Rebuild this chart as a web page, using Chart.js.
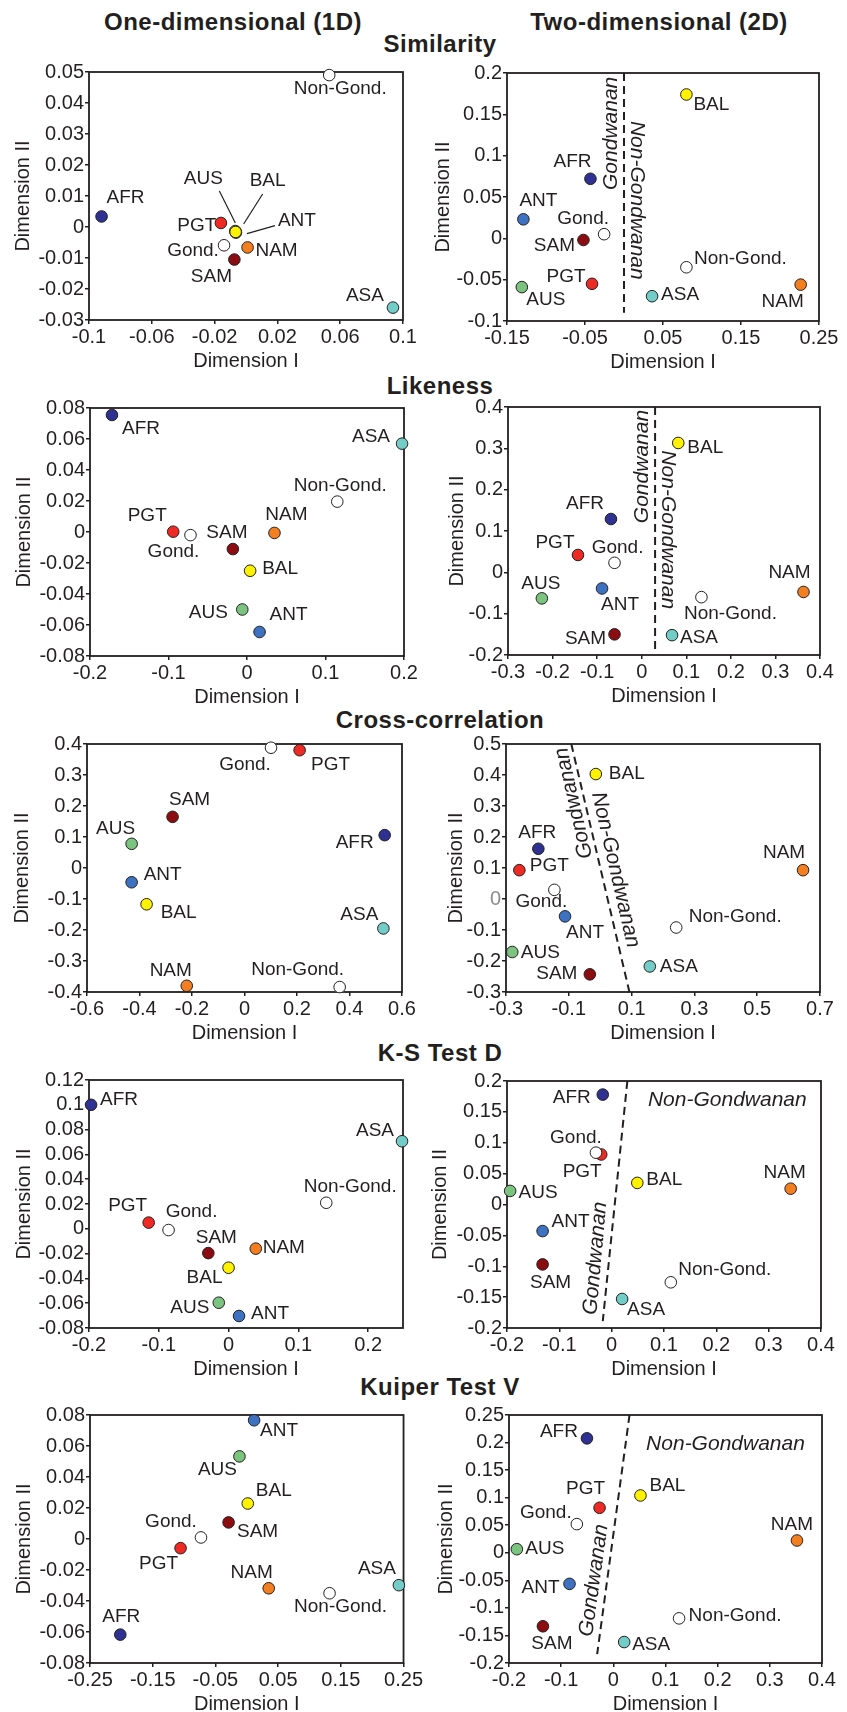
<!DOCTYPE html>
<html lang="en">
<head>
<meta charset="UTF-8">
<title>MDS plots of regions – 1D and 2D</title>
<style>
  body { margin: 0; background: #fff; }
  #fig { position: relative; width: 847px; height: 1712px; overflow: hidden; font-family: 'Liberation Sans', Arial, sans-serif; color: #231f20; }
  #fig canvas { position: absolute; }
  .hd { position: absolute; transform: translate(-50%, -50%); font-weight: bold; font-size: 24px; line-height: 1; white-space: nowrap; letter-spacing: 0.5px; }
</style>
</head>
<body>
<div id="fig">
  <div class="hd" style="left:233px;top:22px">One-dimensional (1D)</div>
  <div class="hd" style="left:659px;top:22px">Two-dimensional (2D)</div>
  <div class="hd" style="left:440px;top:44px">Similarity</div>
  <div class="hd" style="left:440px;top:386px">Likeness</div>
  <div class="hd" style="left:440px;top:720px">Cross-correlation</div>
  <div class="hd" style="left:440px;top:1053px">K-S Test D</div>
  <div class="hd" style="left:440px;top:1387px">Kuiper Test V</div>
</div>

<script src="https://cdn.jsdelivr.net/npm/chart.js"></script>
<script>
  const ink = '#231f20';
  const fontFam = "'Liberation Sans', Arial, sans-serif";

  const regions = ['AFR', 'ANT', 'AUS', 'BAL', 'SAM', 'PGT', 'NAM', 'ASA', 'Gond.', 'Non-Gond.'];
  const regionColors = ['#2e3192', '#3d72c2', '#7bc47f', '#fff200', '#8b0d12', '#ee2a24', '#f47f20', '#72cdc8', '#ffffff', '#ffffff'];

  // Similarity
  const simil1dX = [-0.092, -0.0064, -0.0068, -0.0066, -0.0074, -0.016, 0.001, 0.0936, -0.014, 0.053];
  const simil1dY = [0.0034, -0.0018, -0.0013, -0.0016, -0.0105, 0.0013, -0.0066, -0.026, -0.0059, 0.049];
  const simil1dXTicks = [-0.1, -0.06, -0.02, 0.02, 0.06, 0.1];
  const simil1dYTicks = [-0.03, -0.02, -0.01, 0, 0.01, 0.02, 0.03, 0.04, 0.05];
  const simil2dX = [-0.043, -0.129, -0.131, 0.080, -0.052, -0.041, 0.2265, 0.036, -0.0255, 0.080];
  const simil2dY = [0.072, 0.023, -0.059, 0.174, -0.002, -0.055, -0.056, -0.070, 0.005, -0.035];
  const simil2dXTicks = [-0.15, -0.05, 0.05, 0.15, 0.25];
  const simil2dYTicks = [-0.1, -0.05, 0, 0.05, 0.1, 0.15, 0.2];
  const simil2dSplitX = [0, 0];
  const simil2dSplitY = [0.2, -0.09];

  // Likeness
  const like1dX = [-0.172, 0.016, -0.006, 0.004, -0.018, -0.094, 0.035, 0.1975, -0.072, 0.115];
  const like1dY = [0.0755, -0.0645, -0.050, -0.025, -0.011, 0.0002, -0.0006, 0.057, -0.002, 0.0196];
  const like1dXTicks = [-0.2, -0.1, 0, 0.1, 0.2];
  const like1dYTicks = [-0.08, -0.06, -0.04, -0.02, 0, 0.02, 0.04, 0.06, 0.08];
  const like2dX = [-0.069, -0.089, -0.224, 0.082, -0.061, -0.143, 0.363, 0.068, -0.061, 0.134];
  const like2dY = [0.129, -0.039, -0.063, 0.313, -0.150, 0.042, -0.0475, -0.152, 0.023, -0.060];
  const like2dXTicks = [-0.3, -0.2, -0.1, 0, 0.1, 0.2, 0.3, 0.4];
  const like2dYTicks = [-0.2, -0.1, 0, 0.1, 0.2, 0.3, 0.4];
  const like2dSplitX = [0.03, 0.03];
  const like2dSplitY = [0.4, -0.19];

  // Cross-correlation
  const xcor1dX = [0.534, -0.430, -0.430, -0.373, -0.274, 0.210, -0.220, 0.529, 0.101, 0.3625];
  const xcor1dY = [0.106, -0.046, 0.078, -0.117, 0.165, 0.380, -0.380, -0.195, 0.388, -0.384];
  const xcor1dXTicks = [-0.6, -0.4, -0.2, 0, 0.2, 0.4, 0.6];
  const xcor1dYTicks = [-0.4, -0.3, -0.2, -0.1, 0, 0.1, 0.2, 0.3, 0.4];
  const xcor2dX = [-0.197, -0.112, -0.280, -0.014, -0.033, -0.2575, 0.646, 0.158, -0.146, 0.242];
  const xcor2dY = [0.162, -0.056, -0.171, 0.403, -0.243, 0.093, 0.093, -0.2175, 0.0295, -0.092];
  const xcor2dXTicks = [-0.3, -0.1, 0.1, 0.3, 0.5, 0.7];
  const xcor2dYTicks = [-0.3, -0.2, -0.1, 0, 0.1, 0.2, 0.3, 0.4, 0.5];
  const xcor2dSplitX = [-0.092, 0.093];
  const xcor2dSplitY = [0.5, -0.3];

  // K-S Test D
  const ks1dX = [-0.197, 0.015, -0.014, 0.000, -0.029, -0.1145, 0.039, 0.2486, -0.086, 0.140];
  const ks1dY = [0.100, -0.0703, -0.0596, -0.0314, -0.0196, 0.005, -0.016, 0.0706, -0.001, 0.021];
  const ks1dXTicks = [-0.2, -0.1, 0, 0.1, 0.2];
  const ks1dXRange = [-0.2, 0.25];
  const ks1dYTicks = [-0.08, -0.06, -0.04, -0.02, 0, 0.02, 0.04, 0.06, 0.08, 0.1, 0.12];
  const ks2dX = [-0.017, -0.132, -0.194, 0.049, -0.132, -0.020, 0.342, 0.020, -0.030, 0.113];
  const ks2dY = [0.178, -0.043, 0.022, 0.035, -0.097, 0.081, 0.0256, -0.153, 0.084, -0.126];
  const ks2dXTicks = [-0.2, -0.1, 0, 0.1, 0.2, 0.3, 0.4];
  const ks2dYTicks = [-0.2, -0.15, -0.1, -0.05, 0, 0.05, 0.1, 0.15, 0.2];
  const ks2dSplitX = [0.030, -0.017];
  const ks2dSplitY = [0.2, -0.189];

  // Kuiper Test V
  const kuip1dX = [-0.2017, 0.0117, -0.0117, 0.0016, -0.029, -0.1056, 0.035, 0.2426, -0.073, 0.132];
  const kuip1dY = [-0.0617, 0.0766, 0.0533, 0.0229, 0.0107, -0.0059, -0.0318, -0.0298, 0.001, -0.035];
  const kuip1dXTicks = [-0.25, -0.15, -0.05, 0.05, 0.15, 0.25];
  const kuip1dYTicks = [-0.08, -0.06, -0.04, -0.02, 0, 0.02, 0.04, 0.06, 0.08];
  const kuip2dX = [-0.0506, -0.084, -0.185, 0.052, -0.135, -0.0264, 0.352, 0.0208, -0.070, 0.126];
  const kuip2dY = [0.2076, -0.0564, 0.0065, 0.104, -0.1334, 0.0816, 0.0223, -0.162, 0.052, -0.119];
  const kuip2dXTicks = [-0.2, -0.1, 0, 0.1, 0.2, 0.3, 0.4];
  const kuip2dYTicks = [-0.2, -0.15, -0.1, -0.05, 0, 0.05, 0.1, 0.15, 0.2, 0.25];
  const kuip2dSplitX = [0.031, -0.031];
  const kuip2dSplitY = [0.25, -0.184];

  // layout of each panel: plot box [left, right, top, bottom] in page px,
  // label offsets (px from point), leader lines, italic notes
  const panels = [
    { x: simil1dX, y: simil1dY, xt: simil1dXTicks, yt: simil1dYTicks, box: [89, 403, 72, 320], yTitle: 23,
      offs: [[24, -19], [61, -12], [-32, -52], [32, -51], [-23, 17], [-24, 3], [29, 3], [-28, -12], [-31, 5], [11, 14]],
      leaders: [[2, -16, -40, 0, -8], [3, 27, -38, 8, -8], [1, 39, -7, 11, 1]] },
    { x: simil2dX, y: simil2dY, xt: simil2dXTicks, yt: simil2dYTicks, box: [507, 819, 73, 321], yTitle: 443,
      split: [simil2dSplitX, simil2dSplitY],
      offs: [[-18, -17], [15, -19], [24, 13], [25, 10], [-29, 6], [-26, -7], [-18, 17], [28, -1], [-21, -15], [54, -9]],
      notes: [['Gondwanan', -0.017, 0.127, -90], ['Non-Gondwanan', 0.0168, 0.046, 90]] },
    { x: like1dX, y: like1dY, xt: like1dXTicks, yt: like1dYTicks, box: [90, 404, 408, 656], yTitle: 24,
      offs: [[29, 14], [29, -17], [-34, 3], [30, -2], [-6, -16], [-26, -16], [12, -18], [-31, -7], [-17, 17], [3, -16]] },
    { x: like2dX, y: like2dY, xt: like2dXTicks, yt: like2dYTicks, box: [508, 820, 407, 655], yTitle: 457,
      split: [like2dSplitX, like2dSplitY],
      offs: [[-26, -15], [18, 16], [-1, -15], [27, 5], [-29, 4], [-23, -12], [-14, -19], [27, 3], [3, -15], [29, 17]],
      notes: [['Gondwanan', 0.0013, 0.256, -90], ['Non-Gondwanan', 0.059, 0.103, 90]] },
    { x: xcor1dX, y: xcor1dY, xt: xcor1dXTicks, yt: xcor1dYTicks, box: [87, 402, 744, 992], yTitle: 22,
      offs: [[-30, 8], [31, -7], [-16, -15], [32, 8], [17, -17], [31, 15], [-16, -15], [-24, -14], [-26, 17], [-42, -17]] },
    { x: xcor2dX, y: xcor2dY, xt: xcor2dXTicks, yt: xcor2dYTicks, box: [506, 820, 744, 992], yTitle: 456, grayZero: true,
      split: [xcor2dSplitX, xcor2dSplitY],
      offs: [[-1, -16], [20, 16], [28, 1], [31, 0], [-33, -1], [30, -4], [-19, -17], [29, 0], [-13, 12], [59, -11]],
      notes: [['Gondwanan', -0.084, 0.309, -103], ['Non-Gondwanan', 0.0486, 0.094, 77]] },
    { x: ks1dX, y: ks1dY, xt: ks1dXTicks, xr: ks1dXRange, yt: ks1dYTicks, box: [89, 403, 1080, 1328], yTitle: 24,
      offs: [[28, -5], [31, -2], [-29, 5], [-24, 10], [8, -15], [-21, -17], [28, -1], [-27, -10], [23, -18], [24, -16]] },
    { x: ks2dX, y: ks2dY, xt: ks2dXTicks, yt: ks2dYTicks, box: [507, 821, 1081, 1328], yTitle: 440,
      split: [ks2dSplitX, ks2dSplitY],
      offs: [[-31, 3], [28, -9], [28, 2], [27, -3], [8, 18], [-19, 17], [-6, -16], [24, 11], [-20, -15], [54, -13]],
      notes: [['Gondwanan', -0.031, -0.087, -85], ['Non-Gondwanan', 0.221, 0.169, 0]] },
    { x: kuip1dX, y: kuip1dY, xt: kuip1dXTicks, yt: kuip1dYTicks, box: [90, 404, 1415, 1663], yTitle: 24,
      offs: [[1, -18], [25, 10], [-22, 13], [26, -13], [29, 9], [-22, 16], [-17, -16], [-22, -16], [-30, -16], [11, 14]] },
    { x: kuip2dX, y: kuip2dY, xt: kuip2dXTicks, yt: kuip2dYTicks, box: [509, 822, 1415, 1663], yTitle: 446,
      split: [kuip2dSplitX, kuip2dSplitY],
      offs: [[-28, -7], [-29, 4], [28, 0], [27, -10], [9, 17], [-14, -19], [-5, -16], [27, 3], [-31, -11], [56, -3]],
      notes: [['Gondwanan', -0.037, -0.05, -82], ['Non-Gondwanan', 0.215, 0.197, 0]] }
  ];

  const fmt = v => String(Math.round(v * 1000) / 1000);

  function overlay(p) {
    return {
      id: 'overlay',
      beforeDatasetsDraw(chart) {
        const { ctx, chartArea: a } = chart;
        ctx.save();
        ctx.strokeStyle = ink;
        ctx.lineWidth = 1.8;
        ctx.strokeRect(a.left, a.top, a.right - a.left, a.bottom - a.top);
        ctx.restore();
      },
      afterDatasetsDraw(chart) {
        const { ctx, scales } = chart;
        const pts = chart.getDatasetMeta(0).data;
        ctx.save();
        ctx.fillStyle = ink;
        ctx.strokeStyle = ink;
        ctx.lineWidth = 1.2;
        ctx.font = '19px ' + fontFam;
        ctx.textAlign = 'center';
        ctx.textBaseline = 'middle';
        pts.forEach((pt, i) => ctx.fillText(regions[i], pt.x + p.offs[i][0], pt.y + p.offs[i][1]));
        (p.leaders || []).forEach(([i, x1, y1, x2, y2]) => {
          ctx.beginPath();
          ctx.moveTo(pts[i].x + x1, pts[i].y + y1);
          ctx.lineTo(pts[i].x + x2, pts[i].y + y2);
          ctx.stroke();
        });
        ctx.font = 'italic 21px ' + fontFam;
        (p.notes || []).forEach(([t, vx, vy, rot]) => {
          ctx.save();
          ctx.translate(scales.x.getPixelForValue(vx), scales.y.getPixelForValue(vy));
          ctx.rotate(rot * Math.PI / 180);
          ctx.fillText(t, 0, 0);
          ctx.restore();
        });
        ctx.restore();
      }
    };
  }

  const fig = document.getElementById('fig');

  panels.forEach(p => {
    const [pl, pr, pt, pb] = p.box;
    const isLeft = pl < 424;
    const cl = isLeft ? 0 : 424;
    const cw = isLeft ? 424 : 423;
    const padTop = 14, axisH = 53;
    const cv = document.createElement('canvas');
    cv.width = cw;
    cv.height = padTop + (pb - pt) + axisH;
    cv.style.left = cl + 'px';
    cv.style.top = (pt - padTop) + 'px';
    fig.appendChild(cv);

    const xr = p.xr || [p.xt[0], p.xt[p.xt.length - 1]];
    const datasets = [{
      data: p.x.map((v, i) => ({ x: v, y: p.y[i] })),
      backgroundColor: regionColors,
      borderColor: ink,
      borderWidth: 1,
      pointRadius: 5.8,
      pointHoverRadius: 5.8,
      clip: false
    }];
    if (p.split) {
      datasets.push({
        data: p.split[0].map((v, i) => ({ x: v, y: p.split[1][i] })),
        showLine: true,
        borderColor: ink,
        borderWidth: 2,
        borderDash: [8, 5],
        pointRadius: 0,
        fill: false,
        clip: false
      });
    }

    const tickFont = { family: fontFam, size: 20 };
    const titleFont = { family: fontFam, size: 20, lineHeight: 1.2 };
    const grid = { drawOnChartArea: false, drawTicks: true, tickLength: 4, color: ink, lineWidth: 1.5 };

    new Chart(cv, {
      type: 'scatter',
      data: { datasets },
      options: {
        responsive: false,
        devicePixelRatio: 1,
        animation: false,
        events: [],
        layout: { padding: { top: padTop, right: cl + cw - pr, left: 0, bottom: 0 } },
        plugins: { legend: { display: false }, tooltip: { enabled: false } },
        scales: {
          x: {
            type: 'linear', min: xr[0], max: xr[1],
            afterBuildTicks: s => { s.ticks = p.xt.map(v => ({ value: v })); },
            afterFit: s => { s.height = axisH; },
            grid, border: { display: false },
            ticks: { autoSkip: false, maxRotation: 0, minRotation: 0, padding: 1, color: ink, font: tickFont, callback: fmt },
            title: { display: true, text: 'Dimension I', color: ink, font: titleFont, padding: { top: 0, bottom: 0 } }
          },
          y: {
            type: 'linear', min: p.yt[0], max: p.yt[p.yt.length - 1],
            afterBuildTicks: s => { s.ticks = p.yt.map(v => ({ value: v })); },
            afterFit: s => { s.width = pl - cl; },
            grid, border: { display: false },
            ticks: {
              autoSkip: false, padding: 1, font: tickFont, callback: fmt,
              color: c => (p.grayZero && c.tick && c.tick.value === 0) ? '#8c8c8c' : ink
            },
            title: { display: true, text: 'Dimension II', color: ink, font: titleFont, padding: { top: p.yTitle - cl - 12, bottom: 0 } }
          }
        }
      },
      plugins: [overlay(p)]
    });
  });
</script>
</body>
</html>
